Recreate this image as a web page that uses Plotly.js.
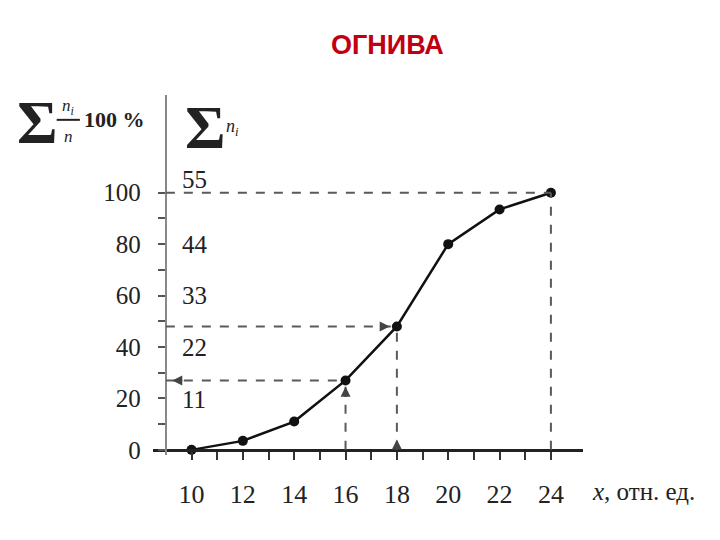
<!DOCTYPE html>
<html>
<head>
<meta charset="utf-8">
<script src="https://cdn.plot.ly/plotly-3.0.1.min.js"></script>
<style>html,body{margin:0;padding:0;background:#fff;}#chart{width:720px;height:540px;}</style>
</head>
<body>
<div id="chart"></div>
<script>
var xValues = [10, 12, 14, 16, 18, 20, 22, 24];
var cumPercent = [0, 3.5, 11, 27, 48, 80, 93.5, 100];
var xTickVals = [10, 11, 12, 13, 14, 15, 16, 17, 18, 19, 20, 21, 22, 23, 24];
var xTickText = ['10', '', '12', '', '14', '', '16', '', '18', '', '20', '', '22', '', '24'];
var yTickVals = [0, 10, 20, 30, 40, 50, 60, 70, 80, 90, 100];
var yTickText = ['0', '', '20', '', '40', '', '60', '', '80', '', '100'];
var nLabels = ['11', '22', '33', '44', '55'];
var nLabelPos = [19.5, 40, 60, 80, 105];
var guideX = [16, 18, 24];

var serif = 'Liberation Serif, Times New Roman, serif';
var guideColor = '#5a5a5a';

function yAt(x) { return cumPercent[xValues.indexOf(x)]; }

var shapes = [];
guideX.forEach(function (gx) {
  var gy = yAt(gx);
  shapes.push({type: 'line', xref: 'x', yref: 'y', x0: gx, x1: gx, y0: 0, y1: gy,
    line: {color: guideColor, width: 2, dash: 'dash'}});
  shapes.push({type: 'line', xref: 'x', yref: 'y', x0: 9, x1: gx, y0: gy, y1: gy,
    line: {color: guideColor, width: 2, dash: 'dash'}});
});
// fraction bar of the left axis label
shapes.push({type: 'line', xref: 'paper', yref: 'paper', x0: -0.224, x1: -0.170, y0: 0.931, y1: 0.931,
  line: {color: '#222', width: 2}});

var annotations = [];
nLabels.forEach(function (t, i) {
  annotations.push({text: t, xref: 'paper', yref: 'y', x: 0.063, y: nLabelPos[i],
    xanchor: 'left', yanchor: 'middle', showarrow: false,
    font: {family: serif, size: 25, color: '#222'}});
});
// arrowheads on the guide lines
var y16 = yAt(16), y18 = yAt(18);
var arrowBase = {text: '', showarrow: true, arrowhead: 2, arrowsize: 1, arrowwidth: 2,
  arrowcolor: '#444', xref: 'x', yref: 'y', axref: 'x', ayref: 'y'};
annotations.push(Object.assign({}, arrowBase, {x: 17.72, y: y18, ax: 17.3, ay: y18}));
annotations.push(Object.assign({}, arrowBase, {x: 18, y: 4, ax: 18, ay: 0}));
annotations.push(Object.assign({}, arrowBase, {x: 16, y: y16 - 2.5, ax: 16, ay: y16 - 7}));
annotations.push(Object.assign({}, arrowBase, {x: 9.25, y: y16, ax: 9.7, ay: y16}));

// axis title texts
annotations.push({text: '<b>\u03A3</b>', xref: 'paper', yref: 'paper', x: -0.268, y: 0.925,
  xanchor: 'center', yanchor: 'middle', showarrow: false,
  font: {family: serif, size: 62, color: '#222'}});
annotations.push({text: '<i>n<sub>i</sub></i>', xref: 'paper', yref: 'paper', x: -0.197, y: 0.967,
  xanchor: 'center', yanchor: 'middle', showarrow: false,
  font: {family: serif, size: 17, color: '#222'}});
annotations.push({text: '<i>n</i>', xref: 'paper', yref: 'paper', x: -0.197, y: 0.885,
  xanchor: 'center', yanchor: 'middle', showarrow: false,
  font: {family: serif, size: 17, color: '#222'}});
annotations.push({text: '<b>100 %</b>', xref: 'paper', yref: 'paper', x: -0.165, y: 0.933,
  xanchor: 'left', yanchor: 'middle', showarrow: false,
  font: {family: serif, size: 22, color: '#222'}});
annotations.push({text: '<b>\u03A3</b>', xref: 'paper', yref: 'paper', x: 0.123, y: 0.91,
  xanchor: 'center', yanchor: 'middle', showarrow: false,
  font: {family: serif, size: 62, color: '#222'}});
annotations.push({text: '<i>n<sub>i</sub></i>', xref: 'paper', yref: 'paper', x: 0.165, y: 0.91,
  xanchor: 'left', yanchor: 'middle', showarrow: false,
  font: {family: serif, size: 18, color: '#222'}});
annotations.push({text: '<i>x</i>, отн. ед.', xref: 'paper', yref: 'paper', x: 1.016, y: -0.1,
  xanchor: 'left', yanchor: 'middle', showarrow: false,
  font: {family: serif, size: 25, color: '#222'}});

var trace = {
  x: xValues, y: cumPercent, type: 'scatter', mode: 'lines+markers',
  line: {color: '#111', width: 2.5},
  marker: {color: '#111', size: 10},
  cliponaxis: false, hoverinfo: 'skip'
};

var layout = {
  width: 720, height: 540,
  paper_bgcolor: '#ffffff', plot_bgcolor: '#ffffff',
  margin: {l: 153, r: 137, t: 95, b: 85},
  showlegend: false,
  title: {text: 'ОГНИВА', x: 0.538, xref: 'container', xanchor: 'center',
    y: 0.918, yref: 'container', yanchor: 'middle',
    font: {family: 'Liberation Sans, Arial, sans-serif', size: 27, color: '#c00010', weight: 'bold'}},
  xaxis: {
    range: [8.5, 25.25], anchor: 'free', position: 2 / 140,
    showgrid: false, zeroline: false,
    showline: true, linecolor: '#222', linewidth: 3,
    ticks: 'outside', ticklen: 8, tickwidth: 2, tickcolor: '#333',
    tickmode: 'array', tickvals: xTickVals, ticktext: xTickText,
    ticklabelstandoff: 12,
    tickfont: {family: serif, size: 26, color: '#222'}
  },
  yaxis: {
    range: [-2, 138], anchor: 'free', position: 0.5 / 16.75,
    showgrid: false, zeroline: false,
    showline: true, linecolor: '#888', linewidth: 2,
    ticks: 'outside', ticklen: 7, tickwidth: 2, tickcolor: '#555',
    tickmode: 'array', tickvals: yTickVals, ticktext: yTickText,
    ticklabelstandoff: 12,
    tickfont: {family: serif, size: 25, color: '#222'}
  },
  shapes: shapes,
  annotations: annotations
};

Plotly.newPlot('chart', [trace], layout, {displayModeBar: false, staticPlot: true});
</script>
</body>
</html>
